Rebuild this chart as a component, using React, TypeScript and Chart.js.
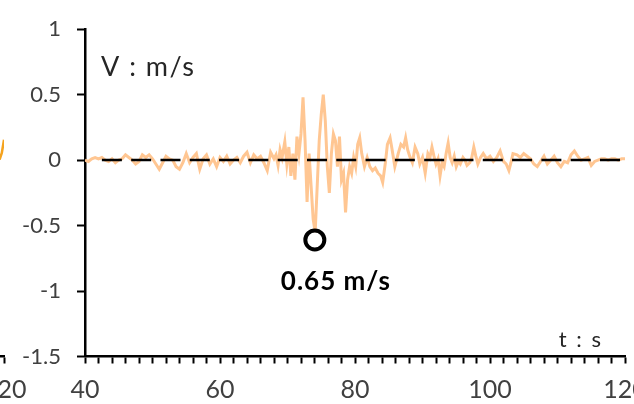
import React, { useEffect, useRef } from 'react';
import { Chart, registerables } from 'chart.js';

Chart.register(...registerables);

// ---- Data ----
const traceTimes = [
  40, 40.5, 41, 41.5, 42, 42.5, 43, 43.5, 44, 44.5,
  45, 45.5, 46, 46.5, 47, 47.5, 48, 48.5, 49, 49.5,
  50, 50.5, 51, 51.5, 52, 52.5, 53, 53.5, 54, 54.5,
  55, 55.5, 56, 56.5, 57, 57.5, 58, 58.5, 59, 59.5,
  60, 60.5, 61, 61.5, 62, 62.5, 63, 63.5, 64, 64.5,
  65, 65.5, 66, 66.5, 67, 67.5, 68, 68.3, 68.6, 68.9,
  69.2, 69.6, 69.9, 70.2, 70.5, 70.8, 71.1, 71.4, 71.7, 72,
  72.3, 72.6, 72.9, 73.2, 73.5, 73.8, 74.1, 74.4, 74.7, 75,
  75.3, 75.6, 75.9, 76.2, 76.5, 76.8, 77.1, 77.4, 77.7, 78,
  78.3, 78.6, 78.9, 79.2, 79.5, 79.8, 80.1, 80.4, 80.7, 81,
  81.4, 81.8, 82.2, 82.6, 83, 83.4, 83.8, 84.1, 84.5, 84.8,
  85.2, 85.5, 85.9, 86.4, 86.8, 87.2, 87.5, 87.8, 88.1, 88.5,
  88.9, 89.3, 89.6, 90, 90.4, 90.8, 91.1, 91.4, 91.7, 92,
  92.3, 92.6, 92.9, 93.2, 93.5, 93.8, 94.1, 94.4, 94.7, 95,
  95.3, 95.6, 96, 96.3, 96.6, 97, 97.3, 97.6, 97.9, 98.2,
  98.6, 99, 99.5, 100, 100.5, 101, 101.5, 102, 102.4, 102.8,
  103.1, 103.4, 104, 104.5, 105, 105.5, 106, 106.5, 107, 107.5,
  108, 108.5, 109, 109.5, 110, 110.5, 111, 111.5, 112, 112.5,
  113, 113.5, 114, 114.5, 115, 115.5, 116, 116.5, 117, 117.5,
  118, 118.5, 119, 119.5, 120,
];
const traceValues = [
  0, -0.01, 0.01, 0.02, 0.01, 0.02, 0, -0.01, 0.01, -0.02,
  0, 0.01, 0.04, 0.02, 0, -0.03, -0.01, 0.04, 0.02, 0.04,
  0.01, -0.03, -0.07, -0.02, 0.03, 0.01, 0, -0.05, -0.07, -0.02,
  0.05, -0.02, 0.02, 0.05, -0.07, 0.01, 0.04, -0.03, 0.01, -0.05,
  0.02, -0.01, 0.03, -0.03, 0, 0.02, -0.02, 0.03, 0.06, -0.02,
  0.04, 0.01, 0.03, -0.02, -0.08, 0.06, 0.01, 0.04, -0.04, 0.08,
  0.02, 0.14, -0.03, 0.1, -0.12, 0.05, -0.15, 0.18, 0.05, 0.2,
  0.48, 0.15, -0.32, 0.05, -0.2, -0.45, -0.55, -0.2, 0.15, 0.35,
  0.5, 0.3, -0.05, -0.25, 0.05, 0.2, 0.15, -0.05, 0.18, -0.15,
  -0.1, -0.4, -0.15, -0.05, -0.1, 0.02, -0.05, 0.12, 0.17, 0.05,
  -0.05, 0.02, -0.05, -0.08, -0.06, -0.1, -0.12, -0.17, -0.02, 0.12,
  0.17, 0.08, -0.05, 0.05, 0.12, 0.1, 0.17, 0.08, 0.03, -0.02,
  0.1, 0.05, -0.03, 0.02, -0.1, 0.05, 0.02, 0.1, 0.03, -0.03,
  0.01, -0.12, -0.02, -0.05, 0.05, 0.13, 0.02, -0.02, 0.03, -0.05,
  -0.01, -0.03, 0.02, 0, -0.04, -0.02, 0.02, 0.1, 0.03, -0.03,
  0.02, 0.05, 0.01, 0.03, -0.01, 0.02, 0.07, -0.01, -0.03, -0.08,
  -0.02, 0.05, 0.04, 0.02, 0.05, 0.03, 0.01, -0.03, -0.05, -0.01,
  0.03, -0.03, 0, 0.03, -0.02, -0.05, -0.01, -0.02, 0.04, 0.07,
  0.03, 0, 0.01, 0.02, -0.04, -0.01, 0, 0.01, 0.01, 0,
  0.01, 0.01, 0, 0.01, 0.01,
];
const zeroLineTimes = [42.5, 119.3];
const zeroLineValues = [0, 0];
const peakTimes = [74.05];
const peakValues = [-0.61];
const peakLabel = '0.65 m/s';
const xLabelTicks = [40, 60, 80, 100, 120];
const yAxisTitle = 'V : m/s';
const xAxisTitle = 't : s';

// neighbouring (cropped) panel on the left
const leftTimes = [19.7, 19.85, 20];
const leftValues = [-0.02, 0.03, 0.13];
const leftLabelTicks = [20];

const FONT = 'Lato, "Open Sans", sans-serif';
const TICK_COLOR = '#404040';

function pts(xs: number[], ys: number[]) {
  return xs.map((x, i) => ({ x, y: ys[i] }));
}

const textPlugin = {
  id: 'annotText',
  afterDatasetsDraw(chart: any) {
    const { ctx, chartArea, scales } = chart;
    const xs = scales.x;
    const ys = scales.y;
    ctx.save();
    ctx.textBaseline = 'middle';
    ctx.fillStyle = '#262626';
    (ctx as any).letterSpacing = '1.5px';
    ctx.font = `27px ${FONT}`;
    ctx.textAlign = 'left';
    ctx.fillText(yAxisTitle, chartArea.left + 16, ys.getPixelForValue(0.71));
    (ctx as any).letterSpacing = '2px';
    ctx.font = `22px ${FONT}`;
    ctx.textAlign = 'right';
    ctx.fillText(xAxisTitle, chartArea.right - 22, chartArea.bottom - 17);
    const px = xs.getPixelForValue(peakTimes[0]);
    const py = ys.getPixelForValue(peakValues[0]);
    ctx.fillStyle = '#000';
    (ctx as any).letterSpacing = '1px';
    ctx.font = `bold 26px ${FONT}`;
    ctx.textAlign = 'center';
    ctx.fillText(peakLabel, px + 21, py + 42);
    ctx.restore();
  },
};

function axisCommon(tickLen: number) {
  return {
    grid: {
      drawOnChartArea: false,
      drawTicks: true,
      tickLength: tickLen,
      tickWidth: 2,
      tickColor: '#000',
    },
    border: { display: true, color: '#000', width: 2.5 },
  };
}

export default function App() {
  const mainRef = useRef<HTMLCanvasElement>(null);
  const leftRef = useRef<HTMLCanvasElement>(null);

  useEffect(() => {
    const main = new Chart(mainRef.current!, {
      type: 'line',
      data: {
        datasets: [
          {
            data: pts(peakTimes, peakValues),
            showLine: false,
            pointRadius: 9.5,
            pointBorderWidth: 4,
            pointBorderColor: '#000',
            pointBackgroundColor: 'rgba(255,255,255,0)',
          },
          {
            data: pts(zeroLineTimes, zeroLineValues),
            borderColor: '#000',
            borderWidth: 2.5,
            borderDash: [20, 9.3],
            pointRadius: 0,
          },
          {
            data: pts(traceTimes, traceValues),
            borderColor: 'rgb(255,198,146)',
            borderWidth: 3,
            pointRadius: 0,
            tension: 0,
          },
        ],
      },
      options: {
        animation: false,
        responsive: false,
        devicePixelRatio: 1,
        layout: { padding: { left: 0, top: 24, right: 45, bottom: 0 } },
        plugins: { legend: { display: false }, tooltip: { enabled: false } },
        scales: {
          x: {
            type: 'linear',
            min: 40,
            max: 120,
            ...axisCommon(7),
            ticks: {
              stepSize: 2,
              autoSkip: false,
              maxRotation: 0,
              padding: 11,
              color: TICK_COLOR,
              font: { family: FONT, size: 25 },
              callback: (v: any) => (xLabelTicks.includes(v) ? String(v) : ''),
            },
            afterFit: (s: any) => {
              s.height = 47.5;
            },
          },
          y: {
            type: 'linear',
            min: -1.5,
            max: 1,
            ...axisCommon(8),
            ticks: {
              stepSize: 0.5,
              padding: 16,
              color: TICK_COLOR,
              font: { family: FONT, size: 22 },
              callback: (v: any) => String(v),
            },
            afterFit: (s: any) => {
              s.width = 85;
            },
          },
        },
      },
      plugins: [textPlugin],
    } as any);

    const left = new Chart(leftRef.current!, {
      type: 'line',
      data: {
        datasets: [
          {
            data: pts(leftTimes, leftValues),
            borderColor: '#F5A31E',
            borderWidth: 2.5,
            pointRadius: 0,
          },
        ],
      },
      options: {
        animation: false,
        responsive: false,
        devicePixelRatio: 1,
        layout: { padding: { left: 0, top: 24, right: 36, bottom: 0 } },
        plugins: { legend: { display: false }, tooltip: { enabled: false } },
        scales: {
          x: {
            type: 'linear',
            min: 0,
            max: 20,
            ...axisCommon(7),
            ticks: {
              stepSize: 2,
              autoSkip: false,
              maxRotation: 0,
              padding: 11,
              labelOffset: 8,
              color: TICK_COLOR,
              font: { family: FONT, size: 25 },
              callback: (v: any) => (leftLabelTicks.includes(v) ? String(v) : ''),
            },
            afterFit: (s: any) => {
              s.height = 47.5;
            },
          },
          y: { type: 'linear', min: -1.5, max: 1, display: false },
        },
      },
    } as any);

    return () => {
      main.destroy();
      left.destroy();
    };
  }, []);

  return (
    <div
      style={{
        position: 'fixed',
        left: 0,
        top: 0,
        width: 634,
        height: 404,
        overflow: 'hidden',
        background: '#fff',
      }}
    >
      <canvas
        ref={mainRef}
        width={670}
        height={404}
        style={{ position: 'absolute', left: 0, top: 0, width: 670, height: 404 }}
      />
      <canvas
        ref={leftRef}
        width={340}
        height={404}
        style={{ position: 'absolute', left: -300, top: 0, width: 340, height: 404 }}
      />
    </div>
  );
}
